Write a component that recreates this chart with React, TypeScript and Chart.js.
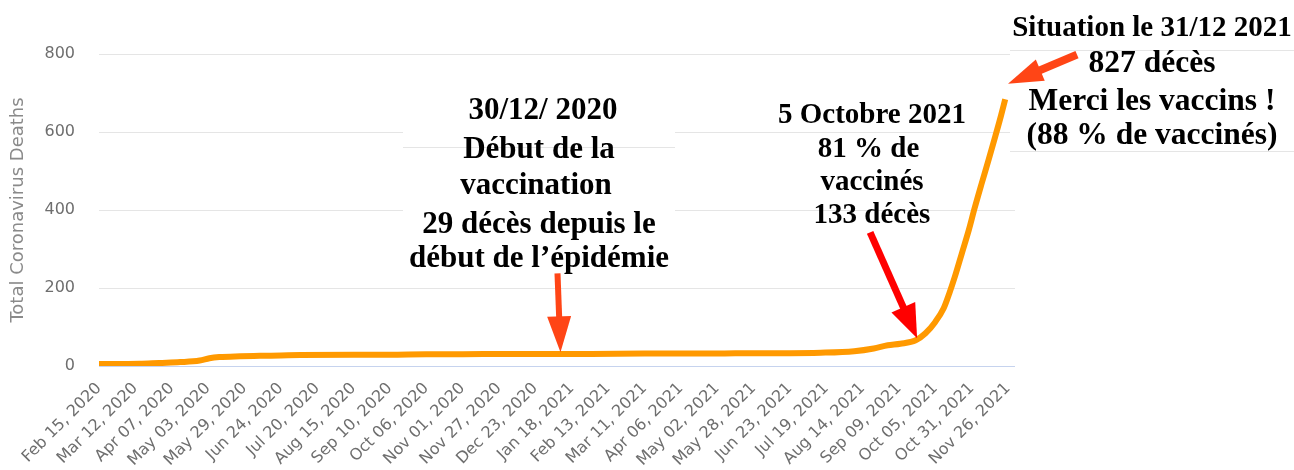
import React, { useEffect, useRef } from 'react';
import { Chart, registerables } from 'chart.js';

Chart.register(...registerables);

// ---------- data ----------
const dates = [
  '2020-02-15', '2020-03-15', '2020-03-29', '2020-04-13', '2020-04-27', '2020-05-04',
  '2020-05-11', '2020-05-26', '2020-06-09', '2020-06-24', '2020-07-08', '2020-08-15',
  '2020-09-10', '2020-10-06', '2020-11-01', '2020-12-01', '2020-12-30', '2021-02-01',
  '2021-03-11', '2021-04-06', '2021-05-02', '2021-05-28', '2021-06-23', '2021-07-15',
  '2021-08-08', '2021-08-22', '2021-09-01', '2021-09-10', '2021-09-21', '2021-09-28',
  '2021-10-05', '2021-10-11', '2021-10-15', '2021-10-19', '2021-10-24', '2021-10-29',
  '2021-11-02', '2021-11-07', '2021-11-12', '2021-11-17', '2021-11-21', '2021-11-24',
];
const deaths = [
  5, 6, 8, 10, 14, 20,
  23, 25, 26, 27, 28, 29,
  29, 30, 30, 31, 31, 31,
  32, 32, 32, 33, 33, 34,
  38, 45, 53, 57, 66, 84,
  113, 148, 186, 229, 289, 349,
  403, 466, 527, 590, 642, 684,
];
const xTickLabels = [
  'Feb 15, 2020', 'Mar 12, 2020', 'Apr 07, 2020', 'May 03, 2020', 'May 29, 2020', 'Jun 24, 2020',
  'Jul 20, 2020', 'Aug 15, 2020', 'Sep 10, 2020', 'Oct 06, 2020', 'Nov 01, 2020', 'Nov 27, 2020',
  'Dec 23, 2020', 'Jan 18, 2021', 'Feb 13, 2021', 'Mar 11, 2021', 'Apr 06, 2021', 'May 02, 2021',
  'May 28, 2021', 'Jun 23, 2021', 'Jul 19, 2021', 'Aug 14, 2021', 'Sep 09, 2021', 'Oct 05, 2021',
  'Oct 31, 2021', 'Nov 26, 2021',
];
const yTickValues = [0, 200, 400, 600, 800];
const yAxisTitle = 'Total Coronavirus Deaths';

// arrow annotations: tip anchored on data coordinates
const arrowTips = [
  { date: '2021-01-10', value: 35 },
  { date: '2021-09-22', value: 71 },
  { date: '2021-11-26', value: 724 },
];
const arrowStyles = [
  { dx: -3, dy: -79, color: '#ff4516', shaft: 6, headLen: 36, headW: 24 },
  { dx: -47, dy: -106, color: '#ff0000', shaft: 7, headLen: 34, headW: 26 },
  { dx: 69, dy: -29, color: '#ff4516', shaft: 8, headLen: 35, headW: 23 },
];

// text annotations
const noteLines = [
  { text: '30/12/ 2020', x: 543, y: 108, size: 31 },
  { text: 'Début de la', x: 539, y: 147, size: 31 },
  { text: 'vaccination', x: 536, y: 183, size: 31 },
  { text: '29 décès depuis le', x: 539, y: 222, size: 31 },
  { text: 'début de l’épidémie', x: 539, y: 256, size: 31 },
  { text: '5 Octobre 2021', x: 872, y: 113, size: 29 },
  { text: '81 % de', x: 868.5, y: 147, size: 29 },
  { text: 'vaccinés', x: 872, y: 180, size: 29 },
  { text: '133 décès', x: 872, y: 213, size: 29 },
  { text: 'Situation le 31/12 2021', x: 1152, y: 26, size: 29 },
  { text: '827 décès', x: 1152, y: 62, size: 31.5 },
  { text: 'Merci les vaccins !', x: 1152, y: 100, size: 31.5 },
  { text: '(88 % de vaccinés)', x: 1152, y: 134, size: 31.5 },
];

// pasted white text boxes (with their own grid fragments)
const boxes = [
  { x: 403, y: 92, w: 272, h: 178, lines: [147] },
  { x: 1010, y: 40, w: 284, h: 120, lines: [50, 151] },
];

const MONTHS: Record<string, number> = {
  Jan: 0, Feb: 1, Mar: 2, Apr: 3, May: 4, Jun: 5, Jul: 6, Aug: 7, Sep: 8, Oct: 9, Nov: 10, Dec: 11,
};
const BASE = Date.UTC(2020, 1, 15);
function isoDay(iso: string) {
  const [y, m, d] = iso.split('-').map(Number);
  return (Date.UTC(y, m - 1, d) - BASE) / 86400000;
}
function labelDay(label: string) {
  const m = label.match(/(\w{3}) (\d+), (\d+)/)!;
  return (Date.UTC(Number(m[3]), MONTHS[m[1]], Number(m[2])) - BASE) / 86400000;
}
const tickDays = xTickLabels.map(labelDay);

const GRID = '#e5e5e5';

const overlayPlugin = {
  id: 'overlay',
  beforeDatasetsDraw(chart: any) {
    const ctx = chart.ctx;
    ctx.save();
    boxes.forEach((b) => {
      ctx.fillStyle = '#ffffff';
      ctx.fillRect(b.x, b.y, b.w, b.h);
      ctx.strokeStyle = GRID;
      ctx.lineWidth = 1;
      b.lines.forEach((ly) => {
        ctx.beginPath();
        ctx.moveTo(b.x, ly + 0.5);
        ctx.lineTo(b.x + b.w, ly + 0.5);
        ctx.stroke();
      });
    });
    ctx.restore();
  },
  afterDatasetsDraw(chart: any) {
    const ctx = chart.ctx;
    const xs = chart.scales.x;
    const ys = chart.scales.y;
    ctx.save();
    arrowTips.forEach((t, i) => {
      const s = arrowStyles[i];
      const tx = xs.getPixelForValue(isoDay(t.date));
      const ty = ys.getPixelForValue(t.value);
      const sx = tx + s.dx;
      const sy = ty + s.dy;
      const len = Math.hypot(tx - sx, ty - sy);
      const ux = (tx - sx) / len;
      const uy = (ty - sy) / len;
      const nx = -uy;
      const ny = ux;
      const bx = tx - ux * s.headLen;
      const by = ty - uy * s.headLen;
      ctx.strokeStyle = s.color;
      ctx.fillStyle = s.color;
      ctx.lineWidth = s.shaft;
      ctx.lineCap = 'butt';
      ctx.beginPath();
      ctx.moveTo(sx, sy);
      ctx.lineTo(bx + ux * 2, by + uy * 2);
      ctx.stroke();
      ctx.beginPath();
      ctx.moveTo(tx, ty);
      ctx.lineTo(bx + nx * s.headW / 2, by + ny * s.headW / 2);
      ctx.lineTo(bx - nx * s.headW / 2, by - ny * s.headW / 2);
      ctx.closePath();
      ctx.fill();
    });
    ctx.restore();
  },
};

export default function App() {
  const canvasRef = useRef<HTMLCanvasElement | null>(null);

  useEffect(() => {
    document.body.style.margin = '0';
    const canvas = canvasRef.current;
    if (!canvas) return;
    const chart = new Chart(canvas, {
      type: 'line',
      data: {
        datasets: [
          {
            data: dates.map((d, i) => ({ x: isoDay(d), y: deaths[i] })),
            borderColor: '#ff9900',
            backgroundColor: '#ff9900',
            borderWidth: 6,
            pointRadius: 0,
            cubicInterpolationMode: 'monotone',
            borderCapStyle: 'butt',
            borderJoinStyle: 'round',
            fill: false,
          },
        ],
      },
      options: {
        animation: false,
        responsive: false,
        devicePixelRatio: 1,
        layout: { padding: { top: 54, right: 279, bottom: 0, left: 0 } },
        plugins: {
          legend: { display: false },
          tooltip: { enabled: false },
        },
        scales: {
          x: {
            type: 'linear',
            min: 0,
            max: 655,
            grid: { display: false },
            border: { display: false },
            afterBuildTicks: (scale: any) => {
              scale.ticks = tickDays.map((v) => ({ value: v }));
            },
            afterFit: (scale: any) => {
              scale.height = 104;
            },
            ticks: {
              autoSkip: false,
              minRotation: 45,
              maxRotation: 45,
              padding: 5,
              color: '#6e6e6e',
              font: { family: 'DejaVu Sans', size: 16 },
              callback: (_v: any, i: number) => xTickLabels[i],
            },
          },
          y: {
            min: 0,
            max: 800,
            afterBuildTicks: (scale: any) => {
              scale.ticks = yTickValues.map((v) => ({ value: v }));
            },
            afterFit: (scale: any) => {
              scale.width = 99;
            },
            grid: {
              drawTicks: false,
              color: (c: any) => (c.tick && c.tick.value === 0 ? '#c6d3ee' : GRID),
            },
            border: { display: false },
            ticks: {
              padding: 24,
              color: '#6e6e6e',
              font: { family: 'DejaVu Sans', size: 16 },
            },
            title: {
              display: true,
              text: yAxisTitle,
              color: '#8a8a8a',
              font: { family: 'DejaVu Sans', size: 18 },
              padding: { top: 8, bottom: 0 },
            },
          },
        },
      },
      plugins: [overlayPlugin],
    } as any);
    return () => chart.destroy();
  }, []);

  return (
    <div style={{ position: 'absolute', left: 0, top: 0, width: 1294, height: 470, background: '#fff', overflow: 'hidden' }}>
      <canvas ref={canvasRef} width={1294} height={470} style={{ position: 'absolute', left: 0, top: 0 }} />
      {noteLines.map((l, i) => (
        <div
          key={i}
          style={{
            position: 'absolute',
            left: l.x,
            top: l.y - l.size / 2,
            transform: 'translateX(-50%)',
            whiteSpace: 'nowrap',
            fontFamily: '"Liberation Serif", serif',
            fontWeight: 'bold',
            fontSize: l.size,
            lineHeight: `${l.size}px`,
            color: '#000',
            pointerEvents: 'none',
          }}
        >
          {l.text}
        </div>
      ))}
    </div>
  );
}
